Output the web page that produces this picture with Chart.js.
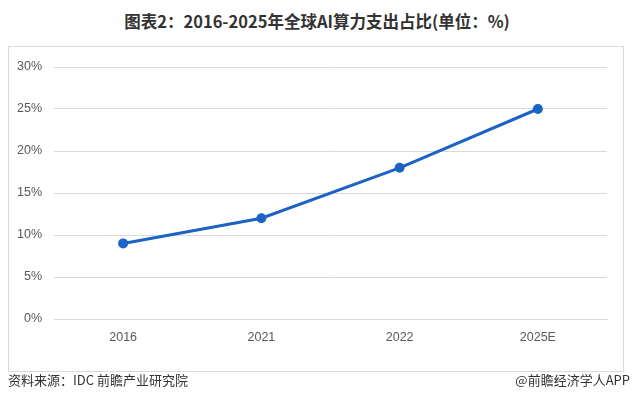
<!DOCTYPE html>
<html>
<head>
<meta charset="utf-8">
<script src="https://cdn.jsdelivr.net/npm/chart.js@4"></script>
<style>
body{margin:0;width:634px;height:399px;background:#fff;position:relative;overflow:hidden;font-family:"Noto Sans CJK SC","Microsoft YaHei",sans-serif;}
#title{position:absolute;left:0;top:9px;width:634px;text-align:center;font-size:16.5px;font-weight:bold;color:#333;}
#box{position:absolute;left:8px;top:46px;width:616px;height:326px;border:1px solid #d9d9d9;box-sizing:border-box;}
#box canvas{position:absolute;left:0;top:0;}
.foot{position:absolute;top:370px;font-size:13px;color:#333;}
</style>
</head>
<body>
<div id="title">图表2：2016-2025年全球AI算力支出占比(单位：%)</div>
<div id="box"><canvas id="c" width="614" height="324"></canvas></div>
<div class="foot" style="left:8px">资料来源：IDC 前瞻产业研究院</div>
<div class="foot" style="right:4px">@前瞻经济学人APP</div>
<script>
// data
const years=["2016","2021","2022","2025E"];
const share=[9,12,18,25];
const yTicks=[0,5,10,15,20,25,30];

const ctx=document.getElementById("c").getContext("2d");
new Chart(ctx,{
  type:"line",
  data:{labels:years,datasets:[{data:share,borderColor:"#1b63c4",backgroundColor:"#1b63c4",
    borderWidth:3,pointRadius:3.5,pointHoverRadius:3.5,tension:0}]},
  options:{
    responsive:false,animation:false,
    layout:{padding:{top:20,right:16,left:0,bottom:0}},
    plugins:{legend:{display:false},tooltip:{enabled:false}},
    scales:{
      x:{offset:true,grid:{display:false,drawTicks:false},border:{display:true,color:"#d9d9d9"},
        ticks:{padding:11,color:"#595959",font:{size:12.5,family:"Liberation Sans"}},
        afterFit:s=>{s.height=52;}},
      y:{min:0,max:30,afterBuildTicks:s=>{s.ticks=yTicks.map(v=>({value:v}));},
        grid:{color:"#d9d9d9",drawTicks:false},border:{display:false},
        ticks:{padding:12,color:"#595959",font:{size:12.5,family:"Liberation Sans"},callback:v=>v+"%"},
        afterFit:s=>{s.width=45;}}
    }
  }
});
</script>
</body>
</html>
